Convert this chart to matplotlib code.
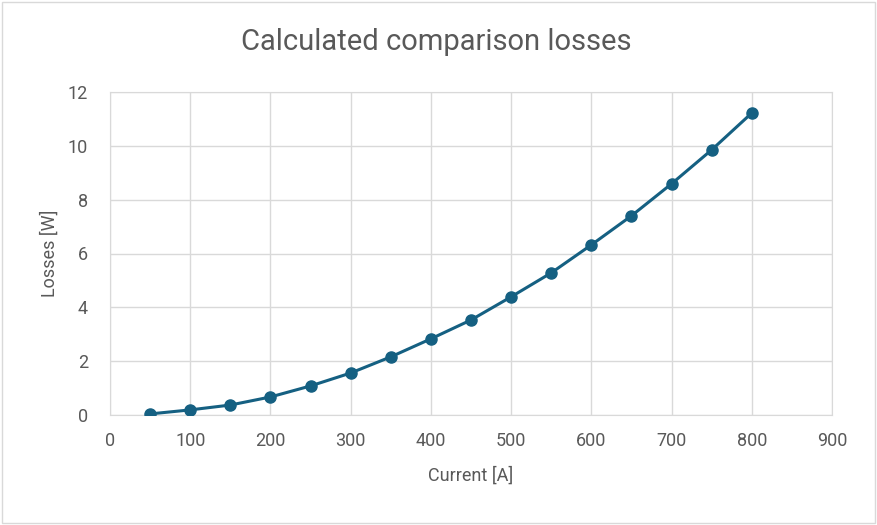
"""Calculated comparison losses vs current"""
import matplotlib.pyplot as plt
from matplotlib.patches import Rectangle

current = [50, 100, 150, 200, 250, 300, 350, 400, 450, 500,
           550, 600, 650, 700, 750, 800]
losses = [0.04, 0.19, 0.37, 0.67, 1.08, 1.56, 2.16, 2.83, 3.53, 4.39,
          5.28, 6.32, 7.40, 8.59, 9.85, 11.22]
x_ticks = list(range(0, 901, 100))
y_ticks = list(range(0, 13, 2))

TEXT = '#595959'
GRID = '#d9d9d9'
LINE = '#156082'


def plot():
    """Draw the chart"""
    plt.rcParams['font.family'] = ['Roboto', 'DejaVu Sans']
    fig = plt.figure(figsize=(8.77, 5.25), dpi=100)
    ax = fig.add_axes([110 / 877, 110 / 525, 722 / 877, 323 / 525])

    # thin outer frame like an Excel chart area
    fig.patches.append(Rectangle((0.002, 0.003), 0.996, 0.994, transform=fig.transFigure,
                                 fill=False, edgecolor=GRID, linewidth=1))

    ax.plot(current, losses, color=LINE, linewidth=2.2, marker='o',
            markersize=8, zorder=3)

    ax.set_xlim(0, 900)
    ax.set_ylim(0, 12)
    ax.set_xticks(x_ticks)
    ax.set_yticks(y_ticks)
    ax.grid(True, color=GRID, linewidth=1)
    ax.set_axisbelow(True)
    for side in ax.spines.values():
        side.set_color(GRID)
    ax.tick_params(length=0, labelsize=13, colors=TEXT)
    ax.tick_params(axis='x', pad=12)
    ax.tick_params(axis='y', pad=16)

    ax.set_xlabel('Current [A]', fontsize=13, color=TEXT, labelpad=12)
    ax.set_ylabel('Losses [W]', fontsize=13, color=TEXT, labelpad=6)
    fig.text(0.497, 0.92, 'Calculated comparison losses', ha='center',
             va='center', fontsize=21, color=TEXT)

    fig.savefig('out.png', dpi=100)


plot()
